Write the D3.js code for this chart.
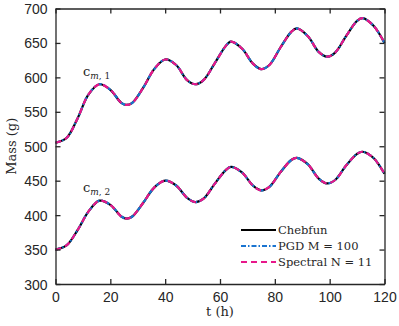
<!DOCTYPE html>
<html>
<head>
<meta charset="utf-8">
<script src="https://cdn.jsdelivr.net/npm/d3@7"></script>
<style>
  body { margin: 0; background: #fff; }
  svg { display: block; }
  .tick text { font-family: "Liberation Sans", Arial, sans-serif; font-size: 14px; fill: #262626; }
  .lbl { font-family: "DejaVu Serif", "Liberation Serif", serif; fill: #262626; }
</style>
</head>
<body>
<div id="root"></div>
<script>
// Time samples (h)
const times = [0, 4, 8, 12, 16, 20, 24, 26, 28, 32, 36, 40, 44, 48, 51, 54, 58, 62, 64,
  68, 72, 75, 78, 82, 86, 88, 92, 96, 99, 102, 106, 110, 112, 116, 120];
// c_{m,1}
const cm1 = [505, 512, 540, 575, 590, 582, 563, 560, 563, 585, 612, 626, 618, 596, 590, 596,
  620, 645, 652, 642, 620, 612, 618, 643, 666, 671, 660, 637, 630, 636, 660, 682, 686, 675, 650];
// c_{m,2}
const cm2 = [350, 356, 378, 405, 421, 415, 398, 395, 398, 418, 440, 450, 443, 425, 419, 424,
  445, 465, 470, 462, 443, 436, 441, 462, 480, 483, 474, 453, 446, 451, 472, 489, 492, 483, 460];

const xTicks = [0, 20, 40, 60, 80, 100, 120];
const yTicks = [300, 350, 400, 450, 500, 550, 600, 650, 700];

const series = [
  { name: "Chebfun", color: "#000000", dash: null },
  { name: "PGD M = 100", color: "#1a74d0", dash: "5,2,1.5,2" },
  { name: "Spectral N = 11", color: "#e8178a", dash: "6,4" },
];

const width = 399, height = 326;
const m = { left: 55.5, right: 384.5, top: 8.5, bottom: 284 };

const svg = d3.select("#root").append("svg")
  .attr("width", width)
  .attr("height", height);

const x = d3.scaleLinear().domain([0, 120]).range([m.left, m.right]);
const y = d3.scaleLinear().domain([300, 700]).range([m.bottom, m.top]);

// Curves
const line = d3.line()
  .x((d) => x(d[0]))
  .y((d) => y(d[1]))
  .curve(d3.curveCatmullRom.alpha(0.5));

[cm1, cm2].forEach((vals) => {
  const pts = times.map((t, i) => [t, vals[i]]);
  series.forEach((s) => {
    svg.append("path")
      .datum(pts)
      .attr("d", line)
      .attr("fill", "none")
      .attr("stroke", s.color)
      .attr("stroke-width", 2.2)
      .attr("stroke-dasharray", s.dash);
  });
});

// Axes (box with inward ticks)
const axisColor = "#262626";
const gx = svg.append("g").attr("transform", `translate(0,${m.bottom})`)
  .call(d3.axisBottom(x).tickValues(xTicks).tickSizeInner(-5).tickSizeOuter(0).tickPadding(8));
const gxTop = svg.append("g").attr("transform", `translate(0,${m.top})`)
  .call(d3.axisTop(x).tickValues(xTicks).tickSizeInner(-5).tickSizeOuter(0).tickFormat(""));
const gy = svg.append("g").attr("transform", `translate(${m.left},0)`)
  .call(d3.axisLeft(y).tickValues(yTicks).tickSizeInner(-5).tickSizeOuter(0).tickPadding(8));
const gyRight = svg.append("g").attr("transform", `translate(${m.right},0)`)
  .call(d3.axisRight(y).tickValues(yTicks).tickSizeInner(-5).tickSizeOuter(0).tickFormat(""));

[gx, gxTop, gy, gyRight].forEach((g) => {
  g.select(".domain").attr("stroke", axisColor).attr("stroke-width", 1.3);
  g.selectAll(".tick line").attr("stroke", axisColor).attr("stroke-width", 1.3);
});
gy.selectAll(".tick text").attr("dy", "0.36em");

// Axis labels
svg.append("text").attr("class", "lbl")
  .attr("x", (m.left + m.right) / 2).attr("y", 316)
  .attr("text-anchor", "middle").attr("font-size", 13)
  .text("t (h)");
svg.append("text").attr("class", "lbl")
  .attr("transform", `translate(16,${(m.top + m.bottom) / 2}) rotate(-90)`)
  .attr("text-anchor", "middle").attr("font-size", 13)
  .text("Mass (g)");

// Curve annotations
function annot(tx, ty, sub) {
  const t = svg.append("text").attr("class", "lbl")
    .attr("x", tx).attr("y", ty).attr("font-size", 13);
  t.append("tspan").text("c");
  t.append("tspan").attr("dy", 3).attr("font-size", 9).attr("font-style", "italic").text("m");
  t.append("tspan").attr("font-size", 9).text(", " + sub);
}
annot(83, 76, "1");
annot(83, 192, "2");

// Legend
const legend = svg.append("g");
series.forEach((s, i) => {
  const ly = 230 + i * 16;
  legend.append("line")
    .attr("x1", 241).attr("x2", 276)
    .attr("y1", ly).attr("y2", ly)
    .attr("stroke", s.color).attr("stroke-width", 2.2)
    .attr("stroke-dasharray", s.dash);
  legend.append("text").attr("class", "lbl")
    .attr("x", 278).attr("y", ly + 4)
    .attr("font-size", 11.5)
    .text(s.name);
});
</script>
</body>
</html>
